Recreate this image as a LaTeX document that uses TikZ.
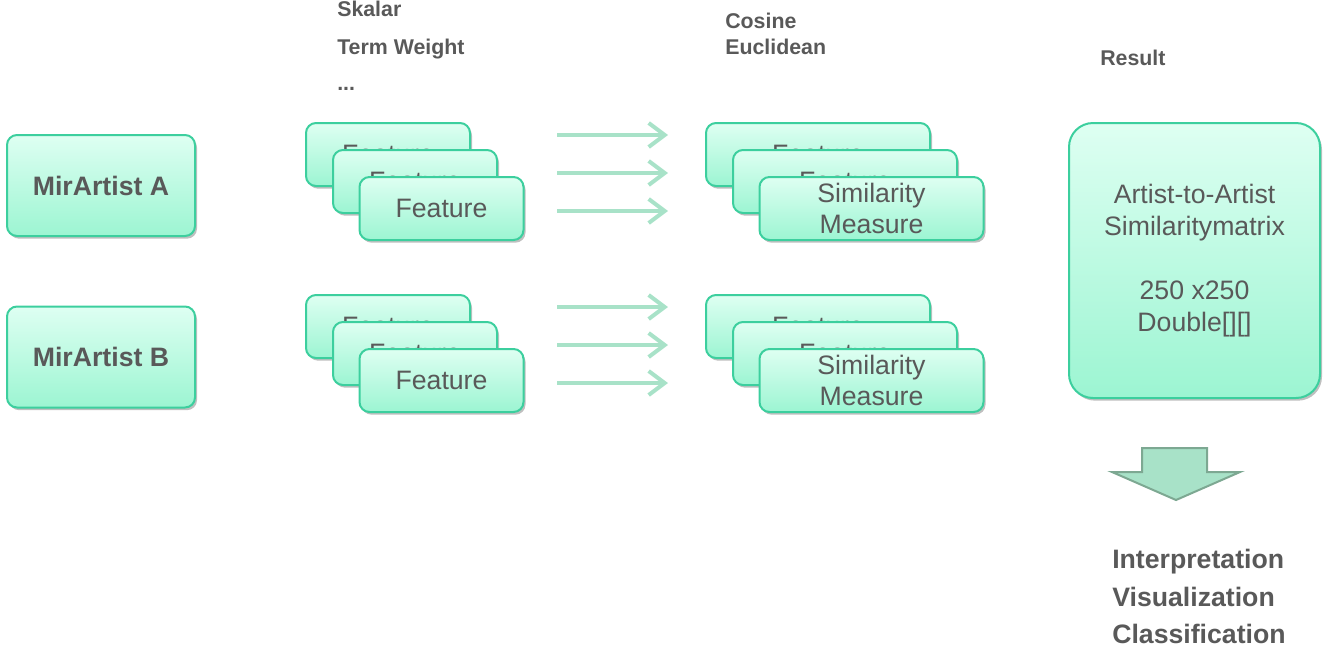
\documentclass[tikz,border=0pt]{standalone}
\usepackage{fontspec}
\setmainfont{Liberation Sans}
\usetikzlibrary{arrows.meta,shadows}
\definecolor{boxline}{HTML}{3CCF9E}
\definecolor{boxtop}{HTML}{DEFFF2}
\definecolor{boxbot}{HTML}{9CF5D2}
\definecolor{txtgray}{HTML}{595959}
\definecolor{arrgreen}{HTML}{A8E2C8}
\definecolor{arredge}{HTML}{7DA892}

\begin{document}
\begin{tikzpicture}[x=0.75pt,y=-0.75pt,
	box/.style={draw=boxline,line width=1.5pt,rounded corners=7.5pt,top color=boxtop,bottom color=boxbot,
		text=txtgray,font=\fontsize{20}{23.5}\selectfont,align=center,inner sep=0pt,
		drop shadow={shadow xshift=1.5pt,shadow yshift=-2pt,opacity=0.25,fill=black}},
	artist/.style={box,minimum width=141pt,minimum height=75.75pt,font=\fontsize{20}{24}\selectfont\bfseries},
	feat/.style={box,minimum width=123pt,minimum height=47.25pt},
	sim/.style={box,minimum width=168pt,minimum height=47.25pt},
	result/.style={box,rounded corners=18pt,minimum width=188.25pt,minimum height=206.25pt,font=\fontsize{20}{24}\selectfont},
	label/.style={text=txtgray,font=\fontsize{16}{19}\selectfont\bfseries,anchor=base west,inner sep=0pt},
	biglabel/.style={label,font=\fontsize{20}{24}\selectfont\bfseries},
	flow/.style={arrgreen,line width=3pt,-{Straight Barb[length=12pt,width=18pt]}}]
	\useasboundingbox (0,0) rectangle (1326,647);

	% artists
	\node[artist] (artA) at (101,185.5) {MirArtist A};
	\node[artist] (artB) at (101,357) {MirArtist B};

	% feature stacks
	\node[feat] (featA1) at (388,154.5) {Feature};
	\node[feat] (featA2) at (415,181.5) {Feature};
	\node[feat] (featA3) at (441.5,208.5) {Feature};
	\node[feat] (featB1) at (388,326.5) {Feature};
	\node[feat] (featB2) at (415,353.5) {Feature};
	\node[feat] (featB3) at (441.5,380.5) {Feature};

	% similarity stacks
	\node[sim] (simA1) at (818,154.5) {Feature};
	\node[sim] (simA2) at (845,181.5) {Feature};
	\node[sim] (simA3) at (871.5,208.5) {Similarity\\Measure};
	\node[sim] (simB1) at (818,326.5) {Feature};
	\node[sim] (simB2) at (845,353.5) {Feature};
	\node[sim] (simB3) at (871.5,380.5) {Similarity\\Measure};

	\node[result] (res) at (1194.5,260.5) {Artist-to-Artist\\Similaritymatrix\\[24pt]250 x250\\Double[][]};

	% arrows between the stacks
	\foreach \y [count=\i] in {135,173,211,307,345,383} {
		\coordinate (in\i) at (557,\y);
		\coordinate (out\i) at (668,\y);
		\draw[flow] (in\i) -- (out\i);
	}

	% labels
	\node[label] (skalar) at (337,16) {Skalar};
	\node[label] (termw) at (337,54) {Term Weight};
	\node[label] (dots) at (337,90) {...};
	\node[label] (cosine) at (725,28) {Cosine};
	\node[label] (eucl) at (725,54) {Euclidean};
	\node[label] (reslbl) at (1100,65) {Result};

	% block arrow down
	\filldraw[fill=arrgreen,draw=arredge,line width=1.5pt] (1142,448) -- (1207,448) -- (1207,472) -- (1240,472)
		-- (1176,500) -- (1112,472) -- (1142,472) -- cycle;

	\node[biglabel] (interp) at (1112,568) {Interpretation};
	\node[biglabel] (visual) at (1112,606) {Visualization};
	\node[biglabel] (classif) at (1112,643) {Classification};
\end{tikzpicture}
\end{document}
